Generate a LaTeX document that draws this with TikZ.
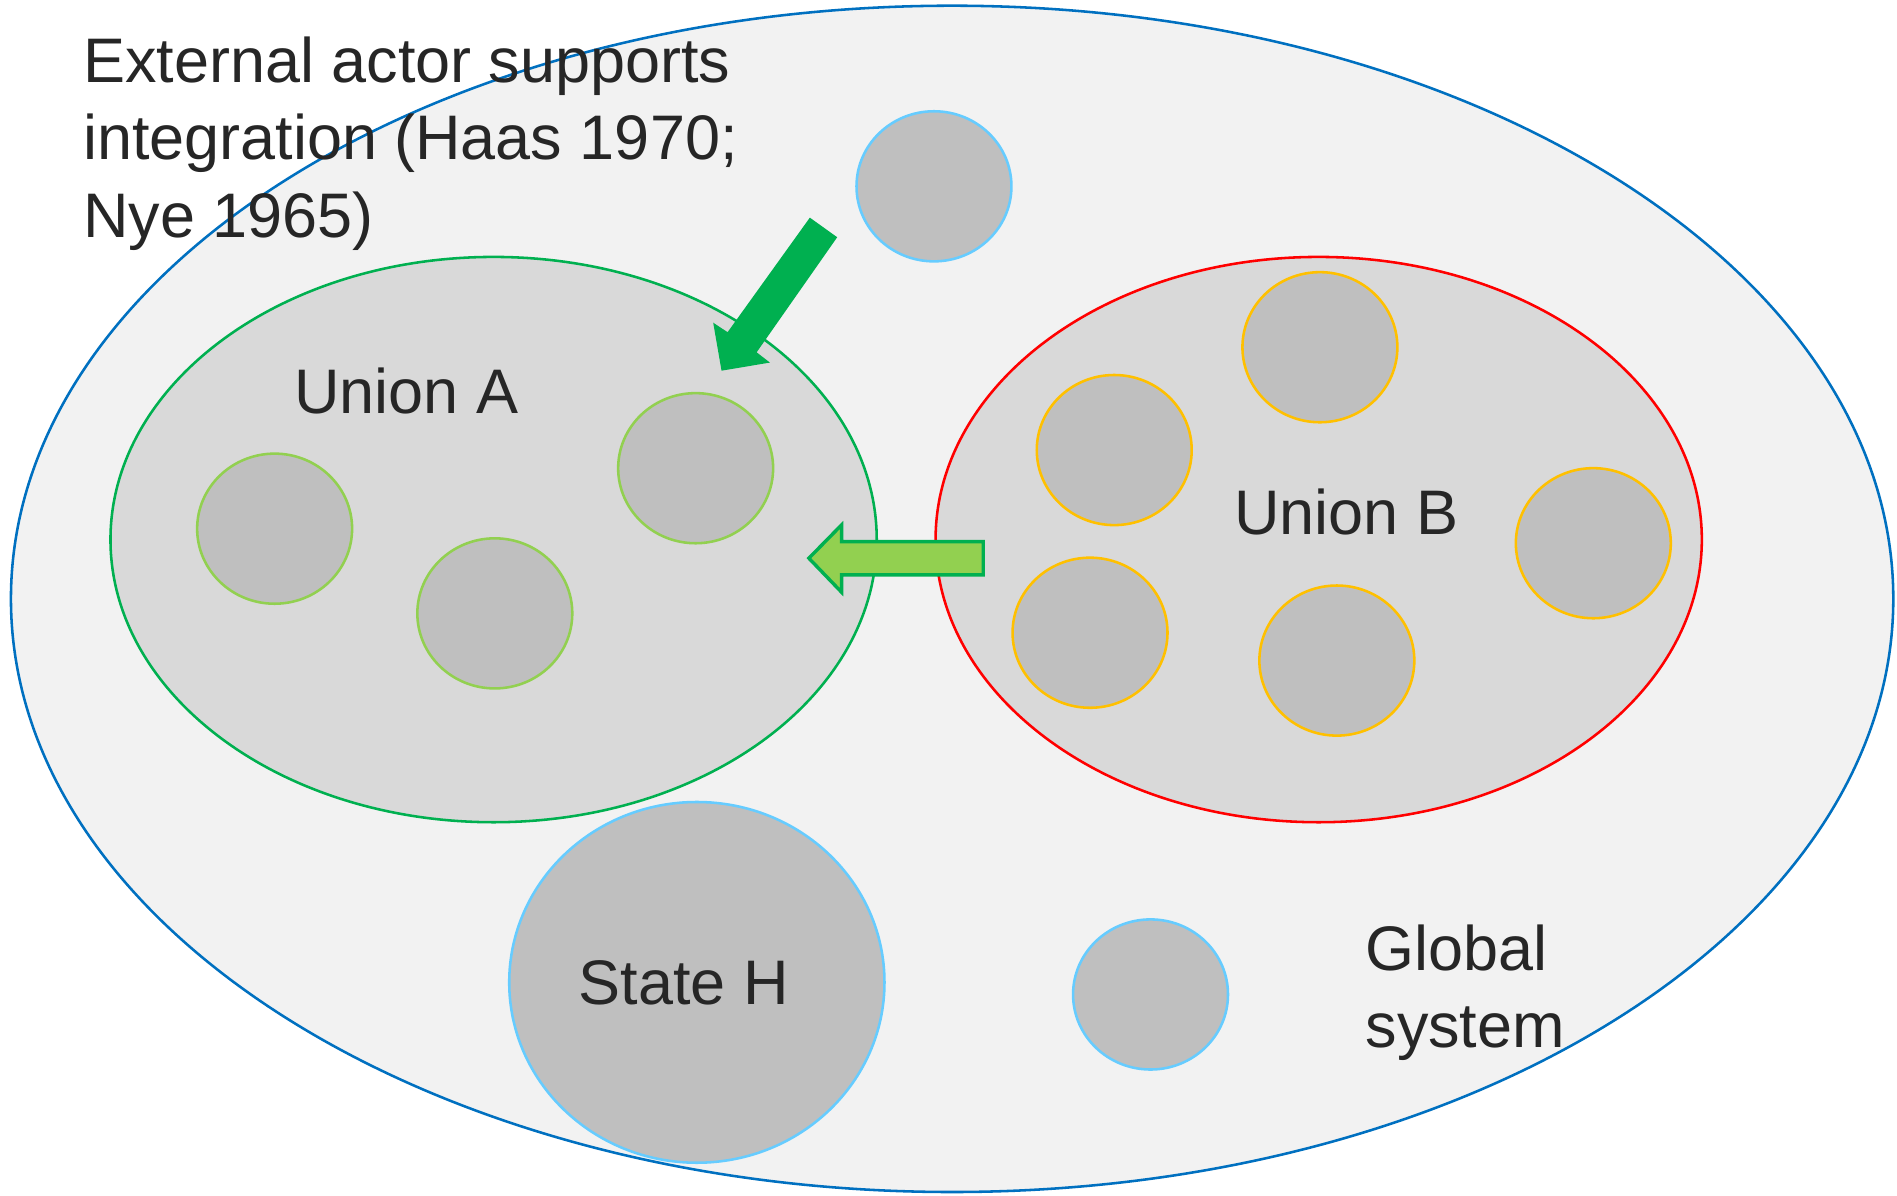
\documentclass[tikz,border=0pt]{standalone}
\usepackage{fontspec}
\setmainfont{Liberation Sans}
\usepackage{tikz}
\usetikzlibrary{shapes.geometric,positioning}
\definecolor{sysblue}{HTML}{0070C0}
\definecolor{sysfill}{HTML}{F2F2F2}
\definecolor{unifill}{HTML}{D9D9D9}
\definecolor{memfill}{HTML}{BFBFBF}
\definecolor{agreen}{HTML}{00B050}
\definecolor{lgreen}{HTML}{92D050}
\definecolor{bred}{HTML}{FF0000}
\definecolor{borange}{HTML}{FFC000}
\definecolor{skyblue}{HTML}{66CCFF}
\definecolor{txt}{HTML}{262626}
\tikzset{
  union/.style={ellipse, fill=unifill, inner sep=0pt, line width=0.6pt,
    minimum width=6.33cm, minimum height=4.67cm},
  member/.style={ellipse, fill=memfill, inner sep=0pt, line width=0.6pt,
    minimum width=1.28cm, minimum height=1.24cm},
  lbl/.style={text=txt, inner sep=0pt, font=\fontsize{14.8}{18.2}\selectfont}
}

\begin{document}
\begin{tikzpicture}[x=0.01cm,y=-0.01cm]
    \useasboundingbox (0,0) rectangle (1568,988);
    % global system
    \node [ellipse, draw=sysblue, fill=sysfill, inner sep=0pt, line width=0.6pt,
      minimum width=15.55cm, minimum height=9.8cm] (sys) at (787,495) {};

    % the two unions
    \node [union, draw=agreen] (ua) at (408,446) {};
    \node [union, draw=bred] (ub) at (1090,446) {};

    % members of union A
    \node [member, draw=lgreen] (a1) at (227,437) {};
    \node [member, draw=lgreen] (a2) at (409,507) {};
    \node [member, draw=lgreen] (a3) at (575,387) {};

    % members of union B
    \node [member, draw=borange] (b1) at (1091,287) {};
    \node [member, draw=borange] (b2) at (921,372) {};
    \node [member, draw=borange] (b3) at (1317,449) {};
    \node [member, draw=borange] (b4) at (901,523) {};
    \node [member, draw=borange] (b5) at (1105,546) {};

    % states outside the unions
    \node [member, draw=skyblue] (ext) at (772,154) {};
    \node [member, draw=skyblue] (s2) at (951,822) {};
    \node [member, draw=skyblue, minimum width=3.1cm, minimum height=2.98cm] (sh) at (576,812) {};

    % block arrows
    \fill [agreen] (669.4,179.9) -- (692,196.1) -- (625.4,291.2) -- (636.4,299.7)
      -- (596.4,306.4) -- (589.5,266.7) -- (601.4,274.6) -- cycle;
    \filldraw [fill=lgreen, draw=agreen, line width=0.8pt] (812.7,447.7) -- (812.7,475.2)
      -- (695.6,475.2) -- (695.6,489.5) -- (668.6,461.4) -- (695.6,433.9)
      -- (695.6,447.7) -- cycle;

    % labels (base anchor sits on the last line)
    \node [lbl, anchor=base west, align=left] (note) at (68,196)
      {External actor supports\\integration (Haas 1970;\\Nye 1965)};
    \node [lbl, anchor=base] (lua) at (336,342) {Union A};
    \node [lbl, anchor=base] (lub) at (1113,442) {Union B};
    \node [lbl, anchor=base] (lsh) at (565,830) {State H};
    \node [lbl, anchor=base west, align=left] (lsys) at (1128,866) {Global\\system};
\end{tikzpicture}
\end{document}
